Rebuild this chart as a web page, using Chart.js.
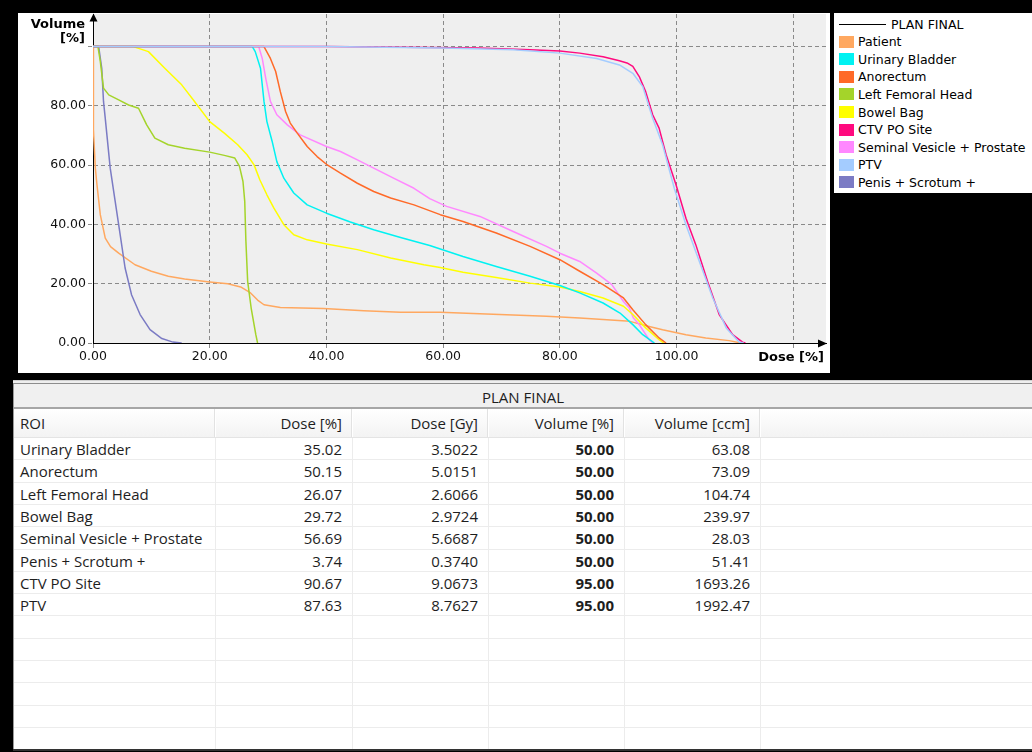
<!DOCTYPE html>
<html>
<head>
<meta charset="utf-8">
<script src="https://cdn.jsdelivr.net/npm/chart.js@4.4.1/dist/chart.umd.min.js"></script>
<style>
html,body{margin:0;padding:0;background:#000;}
body{width:1032px;height:752px;position:relative;overflow:hidden;font-family:"DejaVu Sans",sans-serif;}
#panel{position:absolute;left:18px;top:13px;width:812px;height:360px;background:#fff;}
#legend{position:absolute;left:834px;top:13px;width:198px;height:180px;background:#fff;font-family:"DejaVu Sans",sans-serif;font-size:12.5px;color:#000;}
.lg{position:absolute;left:24px;height:16px;line-height:16px;white-space:nowrap;}
.sw{position:absolute;left:5px;width:15px;height:12px;}
#tbl{position:absolute;left:13px;top:380px;width:1019px;height:370px;background:#fff;font-family:"Open Sans",sans-serif;font-size:15px;color:#1e1e1e;}
#tbl div{position:absolute;white-space:nowrap;}
</style>
</head>
<body>
<div id="panel"><canvas id="c" width="812" height="360"></canvas></div>
<div id="legend"></div>
<div id="tbl"></div>
<script>
// ---------- DVH data (Dose [%] vs Volume [%]) ----------
const patientDose   = [0, 0.05, 0.1, 0.4, 0.68, 1.25, 2.1, 3.0, 4.4, 7.2, 10, 12.9, 15.7, 20, 23.1, 25.3, 27, 28.2, 29.3, 32.1, 39.5, 46.4, 52.7, 59.5, 67.4, 77.7, 83.4, 87.4, 92, 95.3, 97.6, 101.6, 105, 109, 111];
const patientVolume = [100, 90, 72, 59, 53.4, 43.3, 35.4, 32.5, 30.3, 26.4, 24.2, 22.5, 21.6, 20.6, 20, 18.9, 16.9, 14.5, 12.9, 12, 11.6, 10.9, 10.4, 10.4, 9.8, 9.0, 8.4, 7.9, 7.3, 5.6, 4.5, 2.8, 1.7, 0.8, 0];

const bladderDose   = [0, 27.3, 27.8, 28.7, 29.3, 29.8, 30.7, 31.5, 32.7, 34.4, 36.7, 40, 44.1, 48.1, 52.7, 57.7, 63.4, 69.1, 74.9, 80, 83.4, 87.4, 90.3, 92.5, 94.2, 96.2];
const bladderVolume = [100, 100, 98.3, 92.7, 81.5, 74.7, 68, 61.2, 55.6, 50.6, 46.6, 43.8, 40.8, 38.2, 35.6, 32.9, 29.2, 25.8, 22.5, 19.4, 16.9, 13.5, 10.1, 6.2, 2.8, 0];

const anorectumDose   = [0, 29.3, 30.4, 31.3, 32.1, 33, 33.8, 35, 36.7, 38.4, 40, 42.4, 45.3, 48.1, 51, 55, 59.5, 63.4, 69.1, 74.9, 80, 83.4, 87.4, 90.9, 92.5, 94.7, 97, 98.2];
const anorectumVolume = [100, 100, 96, 91.6, 84.8, 78.1, 74.2, 70.8, 66.3, 62.9, 60.3, 57.3, 53.9, 51.1, 48.9, 46.6, 43.3, 41, 37.1, 32.6, 28.1, 24.2, 19.7, 15.2, 11.2, 6.2, 1.7, 0];

const femoralDose   = [0, 0.85, 1.25, 1.8, 2.7, 4.4, 6.1, 7.8, 9.2, 10.6, 12.9, 15.7, 20, 22.5, 24.3, 25.1, 25.7, 26, 26.2, 26.5, 27.1, 27.9, 28.2];
const femoralVolume = [100, 100, 95, 86, 83.7, 82, 80.3, 79.2, 73.6, 69.1, 66.9, 65.7, 64.4, 63.3, 62.4, 59.6, 54.5, 47.8, 34.3, 20.8, 11.8, 2.8, 0];

const bowelDose   = [0, 6.9, 9.5, 12.3, 15.2, 17.4, 20, 22.5, 24.8, 26.4, 27.6, 28.6, 29.8, 31, 32.7, 34.4, 36.7, 40, 45.3, 51, 56.7, 59.5, 63.4, 69.1, 74.9, 80, 83.4, 87.4, 90.9, 92.5, 94.7, 97, 97.8];
const bowelVolume = [100, 100, 98.3, 92.7, 87.1, 81.5, 74.7, 70.8, 66.9, 63.5, 60.1, 55, 50, 45.5, 39.9, 36.5, 34.8, 33.4, 31.5, 28.7, 26.4, 25.5, 23.9, 22.1, 20.2, 18.9, 17.4, 15.2, 12.4, 9.6, 5.1, 1.1, 0];

const ctvDose   = [0, 40, 57.7, 66, 74.9, 80, 83.4, 87.4, 90.2, 91.5, 92.5, 93.6, 94.7, 95.9, 97, 98.2, 99.9, 101.6, 103.3, 105.3, 107.3, 109.6, 111.3, 111.8];
const ctvVolume = [100, 100, 99.7, 99.5, 98.9, 98.5, 97.8, 96.6, 95.2, 94.5, 93.3, 89.9, 84.8, 77, 72.5, 63.5, 53.4, 42.1, 33.1, 20.8, 9.6, 2.8, 0.3, 0];

const vesicleDose   = [0, 28.4, 29, 29.6, 30.4, 31.5, 33.3, 35.5, 40, 42.4, 45.3, 48.1, 51.5, 55, 57.7, 60.6, 66.3, 72, 77.7, 80, 83.4, 86.3, 88.9, 90.9, 91.9, 92.6, 93.6, 95.3, 95.9];
const vesicleVolume = [100, 100, 96, 89.3, 81.5, 77, 73.6, 70.2, 66.3, 64.6, 61.8, 59, 55.6, 52.2, 48.7, 46.1, 42.7, 37.6, 32.6, 30.3, 27.5, 23.6, 19.7, 14, 11.8, 8.4, 6.2, 1.1, 0];

const ptvDose   = [0, 40, 60, 72, 80, 86.3, 90.2, 92.5, 94.2, 95.9, 97.6, 99.6, 101.6, 103.9, 106.2, 108.5, 110.7, 111.5];
const ptvVolume = [100, 100, 99.5, 98.9, 97.8, 96, 93.8, 91, 86.5, 75.8, 66.9, 52.2, 39.9, 27.5, 15.2, 5.1, 0.3, 0];

const penisDose   = [0, 0.97, 1.5, 1.8, 2.1, 2.95, 3.8, 4.66, 5.5, 6.6, 8.07, 9.77, 11.8, 13.7, 15.2];
const penisVolume = [100, 100, 92.7, 81.5, 75.8, 59, 47.8, 36.5, 25.3, 16.3, 9.6, 4.5, 1.5, 0.3, 0];

// ---------- names, colours, ticks ----------
const roiLabels = ['Patient','Urinary Bladder','Anorectum','Left Femoral Head','Bowel Bag','CTV PO Site','Seminal Vesicle + Prostate','PTV','Penis + Scrotum +'];
const roiColors = ['#ffa860','#00f2f2','#ff6a28','#a4d42a','#ffff00','#ff0a7f','#ff88ff','#a4ccff','#7b7bc4'];
const roiDrawOrder = [5, 4, 4, 4, 4, 1, 4, 0, 4];
const planName = 'PLAN FINAL';

const xTickValues = [0, 20, 40, 60, 80, 100, 120];
const xTickLabels = ['0.00','20.00','40.00','60.00','80.00','100.00',''];
const yTickValues = [0, 20, 40, 60, 80, 100];
const yTickLabels = ['0.00','20.00','40.00','60.00','80.00',''];

// ---------- table ----------
const tableHeaders   = ['ROI','Dose [%]','Dose [Gy]','Volume [%]','Volume [ccm]'];
const tableRoi       = ['Urinary Bladder','Anorectum','Left Femoral Head','Bowel Bag','Seminal Vesicle + Prostate','Penis + Scrotum +','CTV PO Site','PTV'];
const tableDosePct   = ['35.02','50.15','26.07','29.72','56.69','3.74','90.67','87.63'];
const tableDoseGy    = ['3.5022','5.0151','2.6066','2.9724','5.6687','0.3740','9.0673','8.7627'];
const tableVolumePct = ['50.00','50.00','50.00','50.00','50.00','50.00','95.00','95.00'];
const tableVolumeCcm = ['63.08','73.09','104.74','239.97','28.03','51.41','1693.26','1992.47'];

const seriesDose = [patientDose, bladderDose, anorectumDose, femoralDose, bowelDose, ctvDose, vesicleDose, ptvDose, penisDose];
const seriesVolume = [patientVolume, bladderVolume, anorectumVolume, femoralVolume, bowelVolume, ctvVolume, vesicleVolume, ptvVolume, penisVolume];

const datasets = roiLabels.map((name, i) => ({
  label: name,
  data: seriesDose[i].map((d, k) => ({x: d, y: seriesVolume[i][k]})),
  borderColor: roiColors[i],
  backgroundColor: roiColors[i],
  borderWidth: 1.5,
  pointRadius: 0,
  tension: 0,
  fill: false,
  order: roiDrawOrder[i]
}));

const decor = {
  id: 'decor',
  afterDraw(chart) {
    const {ctx, chartArea: a} = chart;
    ctx.save();
    ctx.fillStyle = '#000';
    // y arrow
    ctx.beginPath();
    ctx.moveTo(a.left + 0.5, a.top - 0.5);
    ctx.lineTo(a.left + 4.5, a.top + 7.5);
    ctx.lineTo(a.left - 3.5, a.top + 7.5);
    ctx.closePath();
    ctx.fill();
    // x arrow
    ctx.beginPath();
    ctx.moveTo(a.right + 1, a.bottom + 0.5);
    ctx.lineTo(a.right - 8, a.bottom - 3.5);
    ctx.lineTo(a.right - 8, a.bottom + 4.5);
    ctx.closePath();
    ctx.fill();
    ctx.font = 'bold 13px "DejaVu Sans"';
    ctx.textAlign = 'right';
    ctx.textBaseline = 'middle';
    ctx.fillText('Volume', a.left - 8, a.top + 10.5);
    ctx.fillText('[%]', a.left - 8, a.top + 24.5);
    ctx.fillText('Dose [%]', a.right - 2, a.bottom + 14.5);
    ctx.restore();
  }
};

const plotBg = {
  id: 'plotBg',
  beforeDraw(chart) {
    const {ctx, chartArea: a} = chart;
    ctx.save();
    ctx.fillStyle = '#efefef';
    ctx.fillRect(a.left, a.top, a.right - a.left, a.bottom - a.top);
    ctx.restore();
  }
};

const tickFont = {family: 'DejaVu Sans', size: 12.5};

new Chart(document.getElementById('c'), {
  type: 'line',
  data: {datasets},
  options: {
    responsive: false,
    animation: false,
    devicePixelRatio: 1,
    layout: {padding: {left: 0, top: 1, right: 4, bottom: 0}},
    plugins: {legend: {display: false}, tooltip: {enabled: false}},
    elements: {line: {borderCapStyle: 'butt', borderJoinStyle: 'round'}},
    scales: {
      x: {
        type: 'linear', min: 0, max: 125.6,
        afterBuildTicks: s => { s.ticks = xTickValues.map(v => ({value: v})); },
        afterFit: s => { s.height = 30; s.paddingLeft = 0; s.paddingRight = 0; },
        ticks: {autoSkip: false, maxRotation: 0, padding: 0, color: '#111', font: tickFont,
                callback: (v, i) => xTickLabels[i]},
        grid: {color: '#8a8a8a', lineWidth: 1, drawTicks: true, tickLength: 6, tickColor: '#8a8a8a', tickBorderDash: [4, 3]},
        border: {display: true, color: '#000', width: 1, dash: [4, 3]}
      },
      y: {
        type: 'linear', min: 0, max: 111,
        afterBuildTicks: s => { s.ticks = yTickValues.map(v => ({value: v})); },
        afterFit: s => { s.width = 75; s.paddingTop = 0; s.paddingBottom = 0; },
        ticks: {autoSkip: false, padding: 2, color: '#111', font: tickFont,
                callback: (v, i) => yTickLabels[i]},
        grid: {color: '#8a8a8a', lineWidth: 1, drawTicks: true, tickLength: 5, tickColor: '#8a8a8a', tickBorderDash: [4, 3]},
        border: {display: true, color: '#000', width: 1, dash: [4, 3]}
      }
    }
  },
  plugins: [plotBg, decor]
});

// ---------- legend (HTML) ----------
(function buildLegend() {
  const lg = document.getElementById('legend');
  const rowStep = 17.6, firstCenter = 11;
  const line = document.createElement('div');
  line.style.cssText = 'position:absolute;left:5px;top:' + (firstCenter) + 'px;width:47px;height:1px;background:#000;';
  lg.appendChild(line);
  const t0 = document.createElement('div');
  t0.className = 'lg'; t0.style.left = '57px'; t0.style.top = (firstCenter - 7.5) + 'px';
  t0.textContent = planName; lg.appendChild(t0);
  roiLabels.forEach((name, i) => {
    const c = firstCenter + rowStep * (i + 1);
    const sw = document.createElement('div');
    sw.className = 'sw'; sw.style.top = (c - 6) + 'px'; sw.style.background = roiColors[i];
    lg.appendChild(sw);
    const t = document.createElement('div');
    t.className = 'lg'; t.style.top = (c - 7.5) + 'px'; t.textContent = name;
    lg.appendChild(t);
  });
})();

// ---------- table (HTML) ----------
(function buildTable() {
  const tb = document.getElementById('tbl');
  const W = 1019;
  const colEdges = [0, 202, 339, 475, 611, 747];
  const add = (css, text) => {
    const d = document.createElement('div');
    d.style.cssText = css;
    if (text !== undefined) d.textContent = text;
    tb.appendChild(d);
    return d;
  };
  add('left:0;top:0;width:1px;height:370px;background:#9a9a9a;');
  add('left:0;top:0;width:' + W + 'px;height:1px;background:#cfcfcf;');
  add('left:0;top:1px;width:' + W + 'px;height:2px;background:#eeeeee;');
  add('left:0;top:3px;width:' + W + 'px;height:1px;background:#8c8c8c;');
  add('left:1px;top:4px;width:' + (W - 1) + 'px;height:23px;background:#f0f0f0;');
  add('left:1px;top:6px;width:' + (W - 1) + 'px;height:22px;line-height:22px;text-align:center;', planName);
  add('left:1px;top:27px;width:' + (W - 1) + 'px;height:2px;background:#a6a6a6;');
  add('left:1px;top:29px;width:' + (W - 1) + 'px;height:28px;background:linear-gradient(#ffffff,#f3f3f3);');
  add('left:1px;top:57px;width:' + (W - 1) + 'px;height:1px;background:#e4e4e4;');
  for (let k = 1; k < colEdges.length; k++) {
    add('left:' + (colEdges[k] - 1) + 'px;top:29px;width:1px;height:28px;background:#e2e2e2;');
    add('left:' + colEdges[k] + 'px;top:29px;width:1px;height:28px;background:#ffffff;');
  }
  const hdrTop = 29, hdrH = 28;
  add('left:7px;top:' + hdrTop + 'px;height:' + hdrH + 'px;line-height:' + hdrH + 'px;', tableHeaders[0]);
  for (let k = 1; k < tableHeaders.length; k++) {
    add('left:' + colEdges[k] + 'px;width:' + (colEdges[k + 1] - colEdges[k] - 10) + 'px;text-align:right;top:' + hdrTop + 'px;height:' + hdrH + 'px;line-height:' + hdrH + 'px;', tableHeaders[k]);
  }
  const rowTop = 58, rowH = 22.3, nRows = 14;
  for (let r = 0; r < nRows; r++) {
    const y = rowTop + r * rowH;
    add('left:1px;top:' + (y + rowH - 1).toFixed(1) + 'px;width:' + (W - 1) + 'px;height:1px;background:#ececec;');
  }
  for (let k = 1; k < colEdges.length; k++) {
    add('left:' + colEdges[k] + 'px;top:' + rowTop + 'px;width:1px;height:' + (nRows * rowH) + 'px;background:#ececec;');
  }
  add('left:0;top:' + (rowTop + nRows * rowH - 1) + 'px;width:' + W + 'px;height:2px;background:#333;');
  const cols = [tableDosePct, tableDoseGy, tableVolumePct, tableVolumeCcm];
  tableRoi.forEach((name, r) => {
    const y = (rowTop + r * rowH).toFixed(1);
    add('left:7px;top:' + y + 'px;height:' + rowH + 'px;line-height:' + rowH + 'px;', name);
    cols.forEach((col, k) => {
      const left = colEdges[k + 1], w = colEdges[k + 2] - left - 10;
      const d = add('left:' + left + 'px;width:' + w + 'px;text-align:right;top:' + y + 'px;height:' + rowH + 'px;line-height:' + rowH + 'px;', col[r]);
      if (k === 2) d.style.fontWeight = 'bold';
    });
  });
})();
</script>
</body>
</html>
